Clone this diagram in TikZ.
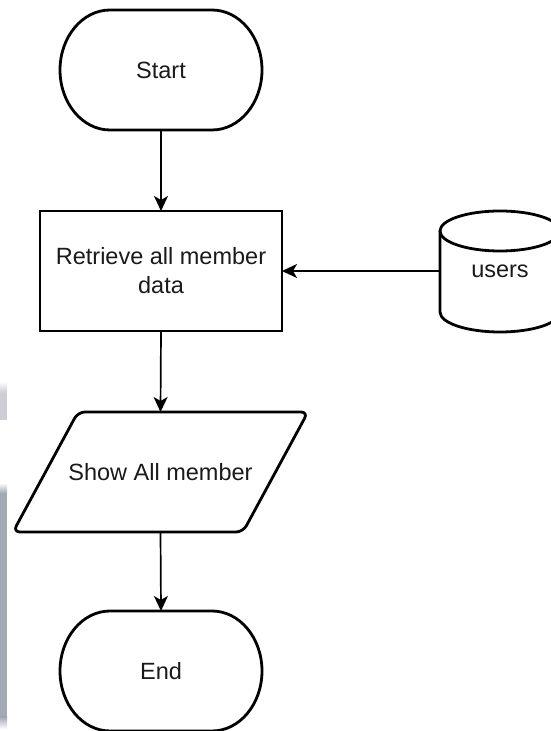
\documentclass[tikz,border=0pt]{standalone}
\usepackage{fontspec}
\setmainfont{Liberation Sans}
\usetikzlibrary{arrows.meta,calc}
\definecolor{txt}{HTML}{1A1A1A}
\definecolor{strip}{HTML}{A4A9B6}
\definecolor{lstrip}{HTML}{CBCED6}
\tikzset{
  box/.style={draw=none,outer sep=0pt,inner sep=0pt,text=txt,font=\fontsize{23.5}{29}\selectfont,align=center},
  shapeline/.style={draw=black,line width=2.8pt,fill=white},
  rectline/.style={draw=black,line width=1.9pt,fill=white},
  flow/.style={draw=black,line width=1.7pt,-{Stealth[length=15pt,width=14pt,inset=4pt]}},
}
\newcommand\termdraw[1]{%
  \path[shapeline] ([xshift=50pt]#1.north west) -- ([xshift=-50pt]#1.north east)
    .. controls +(27.6pt,0) and +(0,33.1pt) .. (#1.east)
    .. controls +(0,-33.1pt) and +(27.6pt,0) .. ([xshift=-50pt]#1.south east)
    -- ([xshift=50pt]#1.south west)
    .. controls +(-27.6pt,0) and +(0,-33.1pt) .. (#1.west)
    .. controls +(0,33.1pt) and +(-27.6pt,0) .. ([xshift=50pt]#1.north west) -- cycle;}
\begin{document}
\begin{tikzpicture}[x=1pt,y=1pt]
\useasboundingbox (0,0) rectangle (551,731);
\clip (0,0) rectangle (551,731);
% left edge strips
\fill[lstrip] (0,311) rectangle (7,338);
\shade[top color=white,bottom color=lstrip] (0,338) rectangle (7,350);
\fill[strip] (0,14) rectangle (7,238);
\shade[top color=white,bottom color=strip] (0,238) rectangle (7,248);
\shade[top color=strip,bottom color=white] (0,2) rectangle (7,14);
% nodes (anchors)
\node[box,minimum width=202pt,minimum height=120pt] (start) at (161,661) {};
\node[box,minimum width=242pt,minimum height=120pt] (retrieve) at (161,460) {};
\node[box,minimum width=120pt,minimum height=121pt] (users) at (500,460) {};
\node[box,minimum width=295pt,minimum height=120pt] (show) at (160.5,259) {};
\node[box,minimum width=202pt,minimum height=120pt] (end) at (161,60) {};
% shapes
\termdraw{start}
\termdraw{end}
\path[rectline] (retrieve.south west) rectangle (retrieve.north east);
\path[shapeline,rounded corners=7pt] ($(show.south west)$) -- ($(show.north west)+(65pt,0)$) -- (show.north east) -- ($(show.south east)+(-65pt,0)$) -- cycle;
\path[shapeline] (users.west |- 0,500) -- (users.west |- 0,419)
   arc[start angle=180,end angle=360,x radius=60pt,y radius=20pt] -- (users.east |- 0,500);
\path[shapeline] (users.north |- 0,500) ellipse[x radius=60pt,y radius=20pt];
% texts
\node[box] at (start) {Start};
\node[box] at (retrieve) {Retrieve all member\\data};
\node[box] at (users) {users};
\node[box] at (show) {Show All member};
\node[box] at (end) {End};
% connectors
\draw[flow] (start.south) -- (retrieve.north);
\draw[flow] (users.west) -- (retrieve.east);
\draw[flow] (retrieve.south) -- (show.north);
\draw[flow] (show.south) -- (end.north);
\end{tikzpicture}
\end{document}
